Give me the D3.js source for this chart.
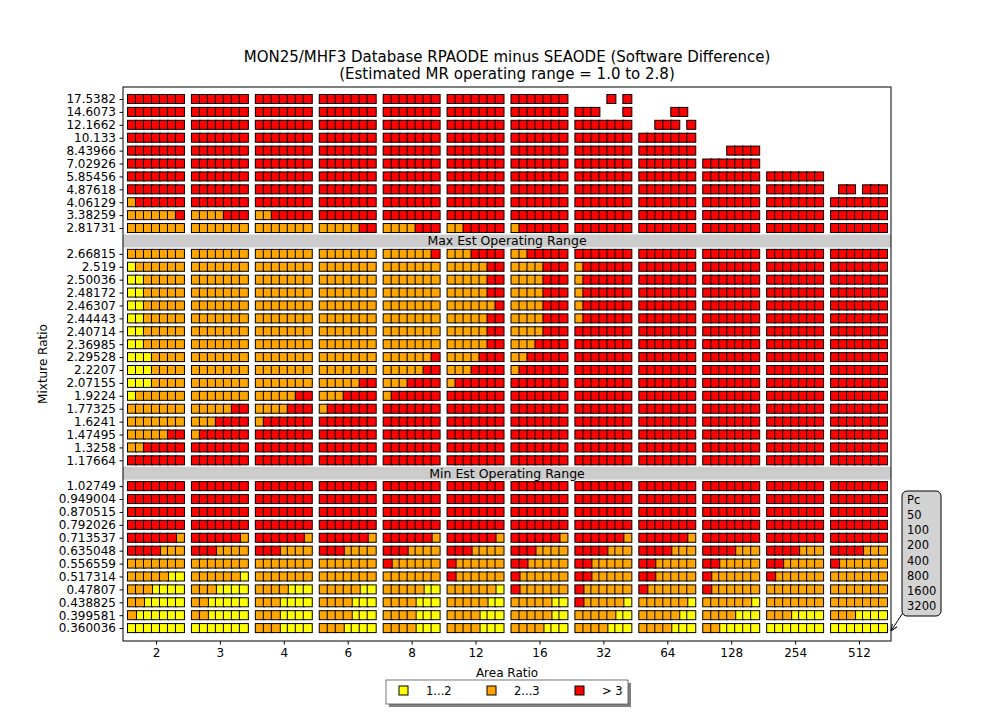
<!DOCTYPE html>
<html>
<head>
<meta charset="utf-8">
<script src="https://cdn.jsdelivr.net/npm/d3@7"></script>
<style>
  body { margin: 0; background: #fff; }
  text { font-family: "DejaVu Sans", sans-serif; }
</style>
</head>
<body>
<svg id="chart" width="990" height="720"></svg>
<script>
// area ratio groups along x, chamber pressures inside each group
const areaRatios = [2, 3, 4, 6, 8, 12, 16, 32, 64, 128, 254, 512];
const pcValues = [50, 100, 200, 400, 800, 1600, 3200];

// bins: 0 = no point, 1 = "1...2", 2 = "2...3", 3 = "> 3"
const binLabels = ["1...2", "2...3", "> 3"];
const binColors = ["#ffff00", "#ffa500", "#ff0000"];

// mixture ratio rows, top to bottom, one string of 7 bins per area ratio
const upperMR = ["17.5382", "14.6073", "12.1662", "10.133", "8.43966", "7.02926",
  "5.85456", "4.87618", "4.06129", "3.38259", "2.81731"];
const upperBins = [
  "3333333 3333333 3333333 3333333 3333333 3333333 3333333 0000303 0000000 0000000 0000000 0000000",
  "3333333 3333333 3333333 3333333 3333333 3333333 3333333 3330003 0000330 0000000 0000000 0000000",
  "3333333 3333333 3333333 3333333 3333333 3333333 3333333 3333333 0033303 0000000 0000000 0000000",
  "3333333 3333333 3333333 3333333 3333333 3333333 3333333 3333333 3333333 0000000 0000000 0000000",
  "3333333 3333333 3333333 3333333 3333333 3333333 3333333 3333333 3333333 0003333 0000000 0000000",
  "3333333 3333333 3333333 3333333 3333333 3333333 3333333 3333333 3333333 3333333 0000000 0000000",
  "3333333 3333333 3333333 3333333 3333333 3333333 3333333 3333333 3333333 3333333 3333333 0000000",
  "3333333 3333333 3333333 3333333 3333333 3333333 3333333 3333333 3333333 3333333 3333333 0330333",
  "2333333 3333333 3333333 3333333 3333333 3333333 3333333 3333333 3333333 3333333 3333333 3333333",
  "2222223 2222333 2233333 3333333 3333333 3333333 3333333 3333333 3333333 3333333 3333333 3333333",
  "2222222 2222222 2222222 2222233 2222333 2233333 2333333 3333333 3333333 3333333 3333333 3333333"
];

const middleMR = ["2.66815", "2.519", "2.50036", "2.48172", "2.46307", "2.44443", "2.40714",
  "2.36985", "2.29528", "2.2207", "2.07155", "1.9224", "1.77325", "1.6241", "1.47495",
  "1.3258", "1.17664"];
const middleBins = [
  "2222222 2222222 2222222 2222222 2222223 2223333 2233333 3333333 3333333 3333333 3333333 3333333",
  "1222222 2222222 2222222 2222222 2222222 2222233 2222333 2333333 3333333 3333333 3333333 3333333",
  "1122222 2222222 2222222 2222222 2222222 2222233 2222333 2333333 3333333 3333333 3333333 3333333",
  "1122222 2222222 2222222 2222222 2222222 2222233 2222333 2333333 3333333 3333333 3333333 3333333",
  "1122222 2222222 2222222 2222222 2222222 2222223 2222333 2333333 3333333 3333333 3333333 3333333",
  "1122222 2222222 2222222 2222222 2222222 2222233 2222333 2333333 3333333 3333333 3333333 3333333",
  "1122222 2222222 2222222 2222222 2222222 2222233 2222333 3333333 3333333 3333333 3333333 3333333",
  "1122222 2222222 2222222 2222222 2222222 2222233 2223333 3333333 3333333 3333333 3333333 3333333",
  "1112222 2222222 2222222 2222222 2222223 2222333 2233333 3333333 3333333 3333333 3333333 3333333",
  "1112222 2222222 2222222 2222222 2222233 2223333 2333333 3333333 3333333 3333333 3333333 3333333",
  "1112222 2222222 2222222 2222233 2223333 2333333 3333333 3333333 3333333 3333333 3333333 3333333",
  "1222222 2222222 2222233 2223333 2333333 3333333 3333333 3333333 3333333 3333333 3333333 3333333",
  "2222222 2222233 2222333 2333333 3333333 3333333 3333333 3333333 3333333 3333333 3333333 3333333",
  "2222222 2223333 2333333 3333333 3333333 3333333 3333333 3333333 3333333 3333333 3333333 3333333",
  "2222233 2333333 3333333 3333333 3333333 3333333 3333333 3333333 3333333 3333333 3333333 3333333",
  "2233333 3333333 3333333 3333333 3333333 3333333 3333333 3333333 3333333 3333333 3333333 3333333",
  "3333333 3333333 3333333 3333333 3333333 3333333 3333333 3333333 3333333 3333333 3333333 3333333"
];

const lowerMR = ["1.02749", "0.949004", "0.870515", "0.792026", "0.713537", "0.635048",
  "0.556559", "0.517314", "0.47807", "0.438825", "0.399581", "0.360036"];
const lowerBins = [
  "3333333 3333333 3333333 3333333 3333333 3333333 3333333 3333333 3333333 3333333 3333333 3333333",
  "3333333 3333333 3333333 3333333 3333333 3333333 3333333 3333333 3333333 3333333 3333333 3333333",
  "3333333 3333333 3333333 3333333 3333333 3333333 3333333 3333333 3333333 3333333 3333333 3333333",
  "3333333 3333333 3333333 3333333 3333333 3333333 3333333 3333333 3333333 3333333 3333333 3333333",
  "3333332 3333332 3333332 3333332 3333332 3333332 3333332 3333332 3333332 3333333 3333333 3333333",
  "3333222 3332222 3332222 3332222 3332222 3332222 3332222 3333222 3333222 3333222 3333222 3333222",
  "2222222 2222222 2222222 2222222 3222222 3222222 3322222 3322222 3322222 3322222 3322222 3222222",
  "2222211 2222221 2222222 2222222 2222222 3222222 3222222 3322222 3322222 3222222 3222222 2222222",
  "2221111 2221111 2222111 2222211 2222211 2222221 3222222 3222222 3222222 3222222 2222222 2222222",
  "2211111 2211111 2221111 2222111 2222111 2222211 2222211 3222221 2222221 2222221 2222222 2222222",
  "2111111 2211111 2221111 2222111 2222111 2222111 2222211 2222211 2222211 2222111 2221111 2221111",
  "1111111 1111111 2221111 2221111 2222111 2222111 2222111 2222111 2222111 2211111 1111111 1111111"
];

const maxBandLabel = "Max Est Operating Range";
const minBandLabel = "Min Est Operating Range";

// ---- layout ----
const svg = d3.select("#chart");
const margin = { left: 123, right: 891, top: 87, bottom: 641 };

// one slot per row, the two band rows sit between the sections
const rows = [];
upperMR.forEach((mr, i) => rows.push({ mr, bins: upperBins[i] }));
rows.push({ band: maxBandLabel });
middleMR.forEach((mr, i) => rows.push({ mr, bins: middleBins[i] }));
rows.push({ band: minBandLabel });
lowerMR.forEach((mr, i) => rows.push({ mr, bins: lowerBins[i] }));
rows.forEach((r, i) => r.slot = i);

const perGroup = pcValues.length + 1; // 7 points and one blank slot
const x = d3.scaleLinear()
  .domain([-1.125, areaRatios.length * perGroup - 1])
  .range([margin.left, margin.right]);
const y = d3.scaleLinear()
  .domain([-0.93, rows.length])
  .range([margin.top, margin.bottom]);

// gray bands
const bands = rows.filter(r => r.band);
svg.selectAll("rect.band").data(bands).enter().append("rect")
  .attr("class", "band")
  .attr("x", margin.left)
  .attr("width", margin.right - margin.left)
  .attr("y", d => y(d.slot - 0.5))
  .attr("height", d => y(d.slot + 0.5) - y(d.slot - 0.5))
  .attr("fill", "#cccccc");
svg.selectAll("text.band").data(bands).enter().append("text")
  .attr("class", "band")
  .attr("x", (margin.left + margin.right) / 2)
  .attr("y", d => y(d.slot))
  .attr("dy", "0.36em")
  .attr("text-anchor", "middle")
  .attr("font-size", 12.5)
  .text(d => d.band);

// points, drawn bin by bin like separate scatter series
const points = [];
[1, 2, 3].forEach(bin => {
  rows.filter(r => r.bins).forEach(r => {
    r.bins.split(" ").forEach((grp, g) => {
      grp.split("").forEach((c, k) => {
        if (+c === bin) points.push({ slot: r.slot, idx: g * perGroup + k, bin });
      });
    });
  });
});

const cell = 9;
svg.append("g").selectAll("rect").data(points).enter().append("rect")
  .attr("x", d => x(d.idx) - cell / 2)
  .attr("y", d => y(d.slot) - cell / 2)
  .attr("width", cell)
  .attr("height", cell)
  .attr("fill", d => binColors[d.bin - 1])
  .attr("stroke", "#000")
  .attr("stroke-width", 1);

// frame
svg.append("rect")
  .attr("x", margin.left).attr("y", margin.top)
  .attr("width", margin.right - margin.left)
  .attr("height", margin.bottom - margin.top)
  .attr("fill", "none").attr("stroke", "#000").attr("stroke-width", 1);

// axes
const dataRows = rows.filter(r => r.mr);
const yAxis = d3.axisLeft(y)
  .tickValues(dataRows.map(r => r.slot))
  .tickFormat(s => rows[s].mr)
  .tickSize(3.5).tickPadding(3.5);
const gy = svg.append("g").attr("transform", `translate(${margin.left},0)`).call(yAxis);
gy.select(".domain").remove();
gy.selectAll("text").attr("font-size", 12).attr("font-family", "DejaVu Sans").attr("fill", "#000");

const xAxis = d3.axisBottom(x)
  .tickValues(areaRatios.map((a, g) => g * perGroup + 3))
  .tickFormat((v, i) => areaRatios[i])
  .tickSize(3.5).tickPadding(3.5);
const gx = svg.append("g").attr("transform", `translate(0,${margin.bottom})`).call(xAxis);
gx.select(".domain").remove();
gx.selectAll("text").attr("font-size", 12).attr("font-family", "DejaVu Sans").attr("fill", "#000");

// titles
svg.append("text").attr("x", 507).attr("y", 62).attr("text-anchor", "middle")
  .attr("font-size", 15).text("MON25/MHF3 Database RPAODE minus SEAODE (Software Difference)");
svg.append("text").attr("x", 507).attr("y", 79).attr("text-anchor", "middle")
  .attr("font-size", 15).text("(Estimated MR operating range = 1.0 to 2.8)");
svg.append("text").attr("x", 507).attr("y", 677).attr("text-anchor", "middle")
  .attr("font-size", 12).text("Area Ratio");
svg.append("text").attr("transform", "translate(47,364) rotate(-90)").attr("text-anchor", "middle")
  .attr("font-size", 12).text("Mixture Ratio");

// Pc annotation box with arrow to the last point
const lastIdx = areaRatios.length * perGroup - 2;
const lastSlot = rows.length - 1;
svg.append("defs").append("marker")
  .attr("id", "arr").attr("viewBox", "0 0 10 10").attr("refX", 10).attr("refY", 5)
  .attr("markerWidth", 7).attr("markerHeight", 7).attr("orient", "auto")
  .append("path").attr("d", "M0,1 L10,5 L0,9").attr("fill", "none").attr("stroke", "#000").attr("stroke-width", 1.3);
svg.append("line")
  .attr("x1", 904).attr("y1", 611)
  .attr("x2", x(lastIdx) + 8).attr("y2", y(lastSlot) + 3)
  .attr("stroke", "#000").attr("stroke-width", 1).attr("marker-end", "url(#arr)");
svg.append("rect").attr("x", 902).attr("y", 491).attr("width", 39).attr("height", 125)
  .attr("rx", 5).attr("fill", "#d3d3d3").attr("stroke", "#000");
const pcLines = ["Pc"].concat(pcValues.map(String));
svg.selectAll("text.pc").data(pcLines).enter().append("text")
  .attr("class", "pc")
  .attr("x", 907).attr("y", (d, i) => 504 + i * 15.15)
  .attr("font-size", 11.5).text(d => d);

// legend
const lg = svg.append("g").attr("transform", "translate(386,680)");
lg.append("rect").attr("x", 3).attr("y", 3).attr("width", 242).attr("height", 24).attr("fill", "#808080");
lg.append("rect").attr("width", 242).attr("height", 24).attr("fill", "#fff").attr("stroke", "#555").attr("stroke-width", 0.8);
binLabels.forEach((lab, i) => {
  lg.append("rect").attr("x", 13 + i * 88).attr("y", 6).attr("width", cell).attr("height", cell)
    .attr("fill", binColors[i]).attr("stroke", "#000");
  lg.append("text").attr("x", 40 + i * 88).attr("y", 15).attr("font-size", 11.5).text(lab);
});
</script>
</body>
</html>
